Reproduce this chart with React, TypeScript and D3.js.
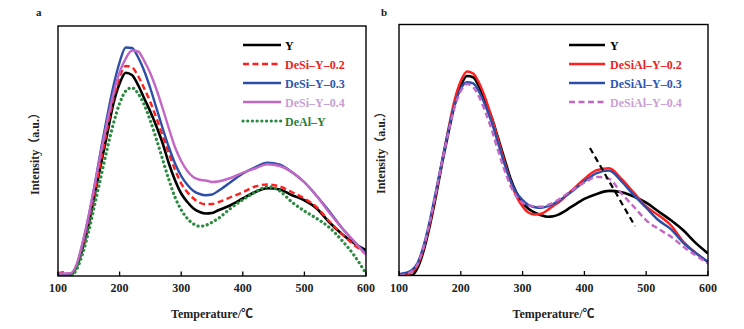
import React from "react";
import * as d3 from "d3";

// ---------- DATA ----------
const temps = [100,110,120,130,140,150,160,170,180,190,200,210,220,230,240,250,260,270,280,290,300,310,320,330,340,350,360,380,400,420,440,460,480,500,520,540,560,580,600];
const xTicks = [100, 200, 300, 400, 500, 600];

// Panel a
const aY      = [0,0,0.3,3.6,11,21,33,45,57,69,77,81.3,80.4,76.4,71,65.7,59.7,53,45,38.3,33,29.6,27,25.6,25,25.2,26.3,28.3,31,33.6,35.1,34.6,32.3,30.3,27,21.6,17,13.2,10.3];
const aDeSi02 = [1,1.5,0.8,4,12,22,34,46.5,59,71,79.5,84,83.5,80,75,69.5,63,56,49,42.5,37,33.5,31,29.3,28.7,28.8,29.5,31.5,33.5,35.8,36.6,35.8,33.5,31,27.5,22,17,12.5,9];
const aDeSi03 = [0.5,0.5,0.8,4,13,24,37,51,64,76,85.5,91.4,91.2,87.5,82,75,67,59,51.5,45,40,36.5,34,32.8,32.3,32.6,34,37.5,41,43.5,45.3,44.5,41.5,37.5,32,26,19.5,14,9];
const aDeSi04 = [1,1,1,4.5,13.5,24.5,37,50,62,73,81.5,87,90.2,89.8,86,81,74.5,67,59,51.5,46,42,39.5,38.5,38.2,37.6,37.8,39.2,41.3,43,44.7,44,41.5,37.5,32,25.5,19.5,14,8.5];
const aDeAl   = [0,0,0,2.5,9,18,29,40,51,61,69,74,75.3,73,68.5,62,54.5,46.5,38.5,31.5,26.5,23,20.8,19.9,20.3,21.5,23,27,30.5,33.5,35.7,34,29.5,26,23,19.5,14.5,8.5,1];

// Panel b
const bY        = [0,0,0,3,10,20,32,45,57,68,75.5,79.5,79,75,69,63,55,47,39,33,29,26.5,25,24,23.4,23.6,24.5,27.5,30.5,32.5,33.7,33.2,31.5,29,25.5,22,18,13,8.8];
const bDeSiAl02 = [0,0.3,1.2,4,11,21,33,46,58.5,70,77.5,81.3,80.5,76.5,70.5,63,54.5,46,38,31.5,27.5,25,24.3,24.6,26,27.8,29.5,34,38.5,42,42.7,38.5,33,27.5,24,20,13.5,9,5.4];
const bDeSiAl03 = [0.5,1,2,5,12,22,34,46,58,68,74.5,77,76.5,73,67.5,61,53,45,38,33,30,28,27.2,27,27.5,28.5,30,33.5,37.5,40.8,41.8,37.5,32,27,22,18.5,13,9,5.4];
const bDeSiAl04 = [0,0.5,1.5,4.5,11.5,21.5,33.5,45.5,57,67,73.5,76.3,75,71,65,58,50,42.5,36,31.5,29,28,27.5,27.4,28,29,30.5,34,37,39.3,38.5,32.7,27.4,22,18.5,15.5,11.5,8,4.8];

// dashed guide line in panel b (temperature, intensity)
const guideT = [409, 482];
const guideV = [50.8, 19.6];

const legendA = ["Y", "DeSi\u2013Y\u20130.2", "DeSi\u2013Y\u20130.3", "DeSi\u2013Y\u20130.4", "DeAl\u2013Y"];
const legendB = ["Y", "DeSiAl\u2013Y\u20130.2", "DeSiAl\u2013Y\u20130.3", "DeSiAl\u2013Y\u20130.4"];

// ---------- STYLES ----------
type Style = { color: string; text: string; dash?: string; width: number; cap?: string };
const stylesA: Style[] = [
  { color: "#000000", text: "#000000", width: 2.6 },
  { color: "#ff1f1f", text: "#ee2222", dash: "6 3.5", width: 2.4 },
  { color: "#2c4ea8", text: "#2a55b0", width: 2.4 },
  { color: "#c466c4", text: "#c99fd4", width: 2.4 },
  { color: "#2a8a3e", text: "#2a7d3a", dash: "0.1 4.6", width: 3.2, cap: "round" },
];
const stylesB: Style[] = [
  { color: "#000000", text: "#000000", width: 2.6 },
  { color: "#ff1f1f", text: "#ee2222", width: 2.4 },
  { color: "#2c4ea8", text: "#2a55b0", width: 2.4 },
  { color: "#c466c4", text: "#c99fd4", dash: "6 3.5", width: 2.4 },
];

const FONT = "'Liberation Serif', 'Times New Roman', 'Noto Sans CJK SC', serif";

type PanelProps = {
  left: number; right: number; top: number; bottom: number;
  series: number[][]; styles: Style[]; legend: string[];
  legendX1: number; legendX2: number; textX: number;
  label: string; labelX: number; yLabelX: number; guide?: boolean;
  id: string;
};

function Panel(p: PanelProps) {
  const x = d3.scaleLinear().domain([100, 600]).range([p.left, p.right]);
  const y = d3.scaleLinear().domain([0, 100]).range([p.bottom, p.top]);
  const line = d3.line<number>()
    .x((_, i) => x(temps[i]))
    .y((v) => y(v))
    .curve(d3.curveMonotoneX);
  const cx = (p.left + p.right) / 2;
  const cy = (p.top + p.bottom) / 2;
  return (
    <g>
      <defs>
        <clipPath id={p.id}>
          <rect x={p.left} y={p.top} width={p.right - p.left} height={p.bottom - p.top} />
        </clipPath>
      </defs>
      <g clipPath={`url(#${p.id})`}>
        {p.series.map((s, i) => (
          <path key={i} d={line(s) || ""} fill="none" stroke={p.styles[i].color}
            strokeWidth={p.styles[i].width} strokeDasharray={p.styles[i].dash}
            strokeLinecap={(p.styles[i].cap as any) || "butt"} strokeLinejoin="round" />
        ))}
        {p.guide && (
          <line x1={x(guideT[0])} y1={y(guideV[0])} x2={x(guideT[1])} y2={y(guideV[1])}
            stroke="#000" strokeWidth={2.2} strokeDasharray="6 4" />
        )}
      </g>
      <rect x={p.left} y={p.top} width={p.right - p.left} height={p.bottom - p.top}
        fill="none" stroke="#000" strokeWidth={1.4} />
      {xTicks.map((t) => (
        <g key={t}>
          <line x1={x(t)} x2={x(t)} y1={p.bottom} y2={p.bottom - 4.5} stroke="#000" strokeWidth={1.3} />
          <text x={x(t)} y={p.bottom + 16} textAnchor="middle" fontFamily={FONT}
            fontWeight="bold" fontSize={12} fill="#222">{t}</text>
        </g>
      ))}
      <text x={cx} y={p.bottom + 42} textAnchor="middle" fontFamily={FONT}
        fontWeight="bold" fontSize={12} fill="#222">Temperature/℃</text>
      <text transform={`translate(${p.yLabelX},${cy}) rotate(-90)`} textAnchor="middle"
        fontFamily={FONT} fontWeight="bold" fontSize={12} fill="#222">Intensity（a.u.）</text>
      <text x={p.labelX} y={16} fontFamily={FONT} fontWeight="bold" fontSize={11} fill="#222">{p.label}</text>
      {p.legend.map((name, i) => {
        const ly = 45 + i * 19;
        const st = p.styles[i];
        return (
          <g key={name}>
            <line x1={p.legendX1} x2={p.legendX2} y1={ly} y2={ly} stroke={st.color}
              strokeWidth={st.width} strokeDasharray={st.dash}
              strokeLinecap={(st.cap as any) || "butt"} />
            <text x={p.textX} y={ly + 4.5} fontFamily={FONT} fontWeight="bold"
              fontSize={12} fill={st.text}>{name}</text>
          </g>
        );
      })}
    </g>
  );
}

export default function App() {
  return (
    <svg width={744} height={329} style={{ position: "absolute", left: 0, top: 0, background: "#fff" }}>
      <rect width={744} height={329} fill="#fff" />
      <Panel id="clipA" left={58} right={366} top={26} bottom={276}
        series={[aY, aDeSi02, aDeSi03, aDeSi04, aDeAl]} styles={stylesA} legend={legendA}
        legendX1={243} legendX2={281} textX={285} label="a" labelX={36} yLabelX={39} />
      <Panel id="clipB" left={399} right={708} top={24.5} bottom={275.5}
        series={[bY, bDeSiAl02, bDeSiAl03, bDeSiAl04]} styles={stylesB} legend={legendB}
        legendX1={569} legendX2={605} textX={610} label="b" labelX={381} yLabelX={385} guide />
    </svg>
  );
}
